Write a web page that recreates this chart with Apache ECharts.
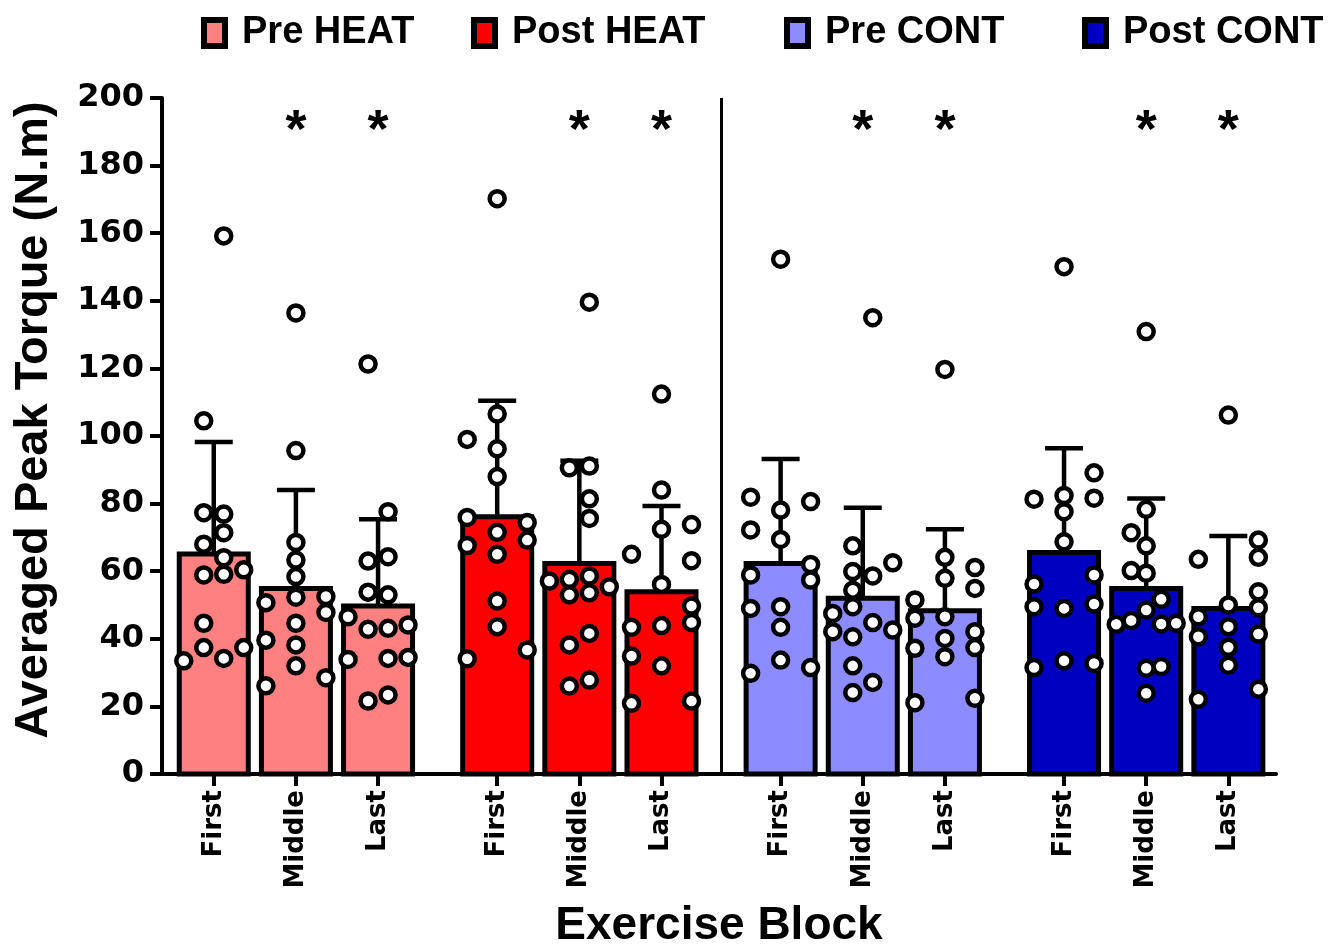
<!DOCTYPE html>
<html>
<head>
<meta charset="utf-8">
<title>Averaged Peak Torque</title>
<script src="https://cdn.jsdelivr.net/npm/echarts@6/dist/echarts.min.js"></script>
<style>
  html, body { margin: 0; padding: 0; background: #fff; }
  #container { width: 1343px; height: 947px; }
</style>
</head>
<body>
<div id="container"></div>
<script>
// conditions and exercise blocks
var groups = ['Pre HEAT', 'Post HEAT', 'Pre CONT', 'Post CONT'];
var blocks = ['First', 'Middle', 'Last'];

// bar heights (mean) and error bar (SD) per block
var preHeatMean = [65.1, 54.9, 49.7];
var postHeatMean = [76.1, 62.3, 53.9];
var preContMean = [62.3, 52.0, 48.3];
var postContMean = [65.5, 54.9, 49.0];

var preHeatSD = [33.1, 29.1, 25.7];
var postHeatSD = [34.3, 30.4, 25.4];
var preContSD = [30.9, 26.8, 24.1];
var postContSD = [30.9, 26.6, 21.4];

// individual participants (First, Middle, Last)
var preHeatPts = [
  [159.2, 104.5, 77.3, 76.9, 71.4, 68.0, 64.0, 58.9, 59.1, 60.4, 44.6, 37.4, 37.4, 33.5, 34.2],
  [136.4, 95.7, 68.5, 63.3, 58.4, 50.7, 52.3, 52.5, 47.8, 44.6, 39.6, 38.2, 32.0, 28.5, 26.1],
  [121.3, 77.6, 63.0, 64.3, 53.8, 53.0, 46.5, 42.8, 43.1, 44.1, 33.9, 34.2, 34.5, 21.6, 23.4]
];
var postHeatPts = [
  [170.2, 106.5, 99.0, 96.2, 88.0, 75.9, 74.4, 71.5, 67.6, 69.2, 65.0, 51.2, 43.6, 36.7, 34.1],
  [139.6, 90.6, 91.1, 81.4, 75.6, 57.1, 57.6, 58.6, 55.4, 53.0, 53.6, 41.6, 38.2, 27.8, 26.0],
  [112.4, 84.0, 72.4, 73.8, 65.0, 63.1, 56.1, 49.7, 44.8, 43.4, 43.9, 34.9, 32.0, 20.9, 21.6]
];
var preContPts = [
  [152.3, 78.1, 81.9, 80.6, 72.2, 69.4, 62.0, 58.9, 57.4, 49.0, 49.5, 43.4, 33.7, 31.5, 29.8],
  [135.0, 67.5, 62.5, 59.9, 58.6, 54.4, 49.5, 47.5, 42.1, 44.8, 42.6, 40.6, 32.0, 27.1, 24.1],
  [119.7, 64.1, 61.1, 57.9, 54.9, 51.5, 46.1, 46.5, 42.1, 40.1, 37.4, 37.2, 34.7, 21.1, 22.4]
];
var postContPts = [
  [150.1, 89.1, 81.3, 82.4, 81.6, 77.6, 68.7, 58.9, 56.2, 49.5, 49.0, 50.3, 31.5, 33.5, 32.7],
  [130.9, 78.3, 71.4, 67.5, 60.2, 59.4, 51.7, 48.5, 45.4, 44.3, 44.4, 44.6, 31.3, 31.8, 23.9],
  [106.2, 69.2, 64.1, 63.5, 53.9, 50.0, 49.2, 46.5, 43.6, 40.6, 41.4, 37.5, 32.2, 25.1, 22.1]
];

// significance marks (vs First)
var preHeatSig = ['', '*', '*'];
var postHeatSig = ['', '*', '*'];
var preContSig = ['', '*', '*'];
var postContSig = ['', '*', '*'];

// horizontal spread of the dots (px), same order as the values
var preHeatJitter = [
  [10, -10, -10, 10, 10, -10, 10, -10, 10, 30, -10, -10, 30, -30, 10],
  [0, 0, 0, 0, 0, -30, 0, 30, 30, 0, -30, 0, 0, 30, -30],
  [-10, 10, -10, 10, -10, 10, -30, -10, 10, 30, -30, 10, 30, -10, 10]
];
var postHeatJitter = [
  [0, 0, -30, 0, 0, -30, 30, 0, -30, 30, 0, 0, 0, 30, -30],
  [10, -10, 10, 10, 10, -30, -10, 10, 30, -10, 10, 10, -10, 10, -10],
  [0, 0, 0, 30, -30, 30, 0, 30, 30, -30, 0, -30, 0, -30, 30]
];
var preContJitter = [
  [0, 0, -30, 30, -30, 0, 30, -30, 30, -30, 0, 0, 0, 30, -30],
  [10, -10, 30, -10, 10, -10, -10, -30, -30, 10, 30, -10, -10, 10, -10],
  [0, 0, 30, 0, 30, -30, -30, 0, 30, 0, 30, -30, 0, -30, 30]
];
var postContJitter = [
  [0, 30, -30, 0, 30, 0, 0, 30, -30, -30, 0, 30, -30, 0, 30],
  [0, 0, -15, 0, -15, 0, 15, 0, -15, -30, 15, 30, 0, 15, 0],
  [0, 30, 30, -30, 30, 0, 30, -30, 0, -30, 30, 0, 0, 30, -30]
];

var colors = ['#ff8080', '#ff0000', '#8c8cff', '#0000c0'];
var means = [preHeatMean, postHeatMean, preContMean, postContMean];
var sds = [preHeatSD, postHeatSD, preContSD, postContSD];
var pts = [preHeatPts, postHeatPts, preContPts, postContPts];
var jitter = [preHeatJitter, postHeatJitter, preContJitter, postContJitter];
var sigs = [preHeatSig, postHeatSig, preContSig, postContSig];

var groupStep = 3.45;   // one group = 3 bars + gap
var barW = 69;
var capW = 38;
var starY = 190;
var headFont = '"Liberation Sans", Arial, sans-serif';
var tickFont = '"DejaVu Sans", sans-serif';
var legendLeft = [201, 471, 784, 1082];

function xPos(g, i) { return g * groupStep + i; }

var tickPos = [], tickText = [];
groups.forEach(function (name, g) {
  blocks.forEach(function (b, i) {
    tickPos.push(xPos(g, i));
    tickText.push(b);
  });
});

function barItem(params, api) {
  var x = api.value(0), m = api.value(1), sd = api.value(2);
  var base = api.coord([x, 0]);
  var top = api.coord([x, m]);
  var hi = api.coord([x, m + sd]);
  return {
    type: 'group',
    children: [
      { type: 'rect', shape: { x: base[0] - barW / 2, y: top[1], width: barW, height: base[1] - top[1] },
        style: { fill: api.visual('color'), stroke: '#000', lineWidth: 5 } },
      { type: 'line', shape: { x1: top[0], y1: top[1], x2: hi[0], y2: hi[1] },
        style: { stroke: '#000', lineWidth: 4.5 } },
      { type: 'line', shape: { x1: hi[0] - capW / 2, y1: hi[1], x2: hi[0] + capW / 2, y2: hi[1] },
        style: { stroke: '#000', lineWidth: 4.5 } }
    ]
  };
}

function starItem(params, api) {
  var p = api.coord([api.value(0), api.value(1)]);
  return {
    type: 'text', x: p[0], y: p[1],
    style: { text: '*', fill: '#000', font: 'bold 54px ' + headFont, align: 'center', verticalAlign: 'middle' }
  };
}

var series = [];
groups.forEach(function (name, g) {
  var s = {
    name: name,
    type: 'custom',
    renderItem: barItem,
    itemStyle: { color: colors[g], borderColor: '#000', borderWidth: 6 },
    encode: { x: 0, y: 1 },
    z: 2,
    data: blocks.map(function (b, i) { return [xPos(g, i), means[g][i], sds[g][i]]; })
  };
  if (g === 0) {
    // divider between HEAT and CONT
    s.markLine = {
      silent: true, symbol: 'none', label: { show: false },
      lineStyle: { color: '#000', width: 3, type: 'solid' },
      data: [{ xAxis: (xPos(1, 2) + xPos(2, 0)) / 2 }]
    };
  }
  series.push(s);
});

groups.forEach(function (name, g) {
  var d = [];
  blocks.forEach(function (b, i) {
    pts[g][i].forEach(function (v, k) {
      d.push({ value: [xPos(g, i), v], symbolOffset: [jitter[g][i][k], 0] });
    });
  });
  series.push({
    type: 'scatter',
    symbol: 'circle',
    symbolSize: 15,
    itemStyle: { color: '#fff', borderColor: '#000', borderWidth: 4.5, opacity: 1 },
    z: 4,
    data: d
  });
});

var starData = [];
groups.forEach(function (name, g) {
  blocks.forEach(function (b, i) {
    if (sigs[g][i]) starData.push([xPos(g, i), starY]);
  });
});
series.push({ type: 'custom', renderItem: starItem, encode: { x: 0, y: 1 }, z: 5, data: starData });

var option = {
  animation: false,
  backgroundColor: '#fff',
  textStyle: { fontFamily: headFont },
  grid: { left: 162, right: 67, top: 98, bottom: 173, outerBoundsMode: 'none' },
  legend: groups.map(function (name, g) {
    return {
      data: [name], left: legendLeft[g], top: 14, padding: 0,
      icon: 'rect', itemWidth: 21, itemHeight: 26, selectedMode: false,
      itemStyle: { borderColor: '#000', borderWidth: 6 },
      textStyle: { fontFamily: headFont, fontWeight: 'bold', fontSize: 38, color: '#000', padding: [0, 0, 0, 12] }
    };
  }),
  xAxis: {
    type: 'value', min: -0.63, max: 12.93,
    name: 'Exercise Block', nameLocation: 'middle', nameGap: 129, nameMoveOverlap: false,
    nameTextStyle: { fontFamily: headFont, fontWeight: 'bold', fontSize: 46, color: '#000' },
    splitLine: { show: false },
    axisLine: { onZero: false, lineStyle: { color: '#000', width: 4 } },
    axisTick: { show: true, length: 12, customValues: tickPos, lineStyle: { color: '#000', width: 4 } },
    axisLabel: {
      customValues: tickPos, rotate: 90, margin: 16,
      fontFamily: tickFont, fontWeight: 'bold', fontSize: 26, color: '#000',
      formatter: function (v) {
        var best = 0;
        tickPos.forEach(function (p, i) { if (Math.abs(p - v) < Math.abs(tickPos[best] - v)) best = i; });
        return tickText[best];
      }
    }
  },
  yAxis: {
    type: 'value', min: 0, max: 200, interval: 20,
    name: 'Averaged Peak Torque (N.m)', nameLocation: 'middle', nameGap: 104, nameMoveOverlap: false,
    nameTextStyle: { fontFamily: headFont, fontWeight: 'bold', fontSize: 47, color: '#000', padding: [0, 0, 0, 32] },
    splitLine: { show: false },
    axisLine: { show: true, onZero: false, lineStyle: { color: '#000', width: 4 } },
    axisTick: { show: true, length: 12, lineStyle: { color: '#000', width: 4 } },
    axisLabel: { fontFamily: tickFont, fontWeight: 'bold', fontSize: 32, color: '#000', margin: 18 }
  },
  series: series
};

var myChart = echarts.init(document.getElementById('container'));
myChart.setOption(option);
</script>
</body>
</html>
